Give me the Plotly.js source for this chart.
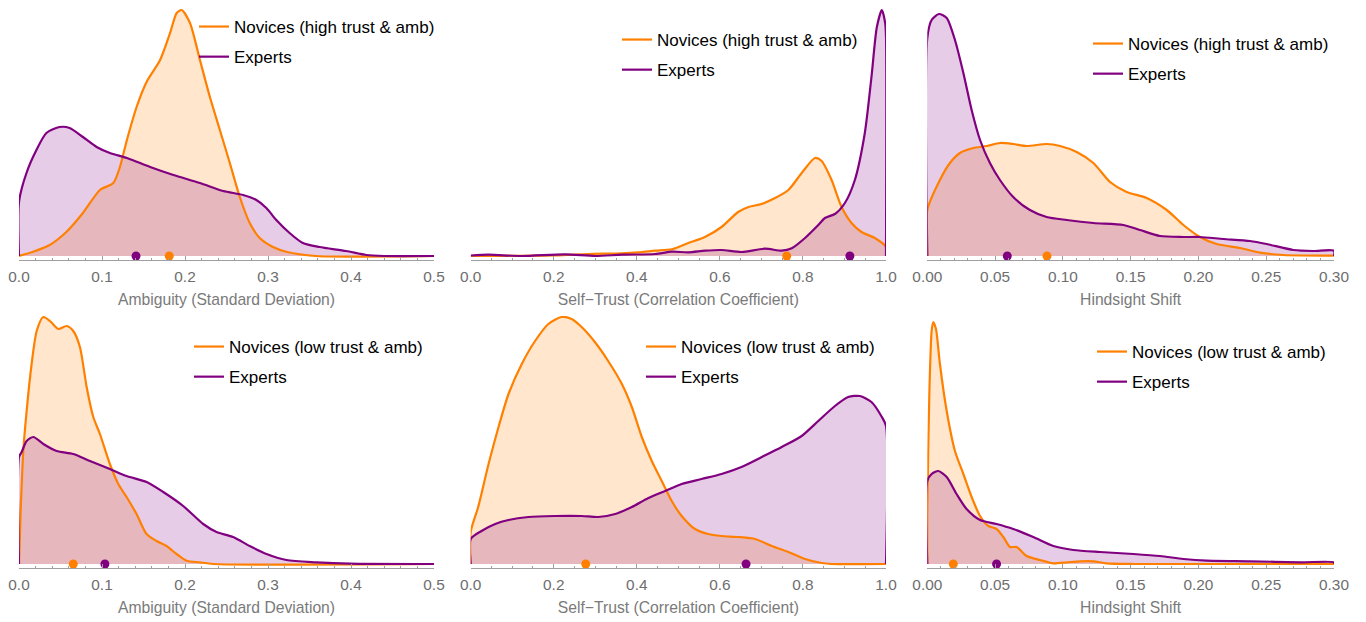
<!DOCTYPE html>
<html>
<head>
<meta charset="utf-8">
<script src="https://cdn.plot.ly/plotly-3.0.1.min.js"></script>
<style>html,body{margin:0;padding:0;background:#fff;}#chart{width:1366px;height:622px;}</style>
</head>
<body>
<div id="chart"></div>
<script>
// ---- Data (density curves; heights in relative units) ----
// Panel 1: Ambiguity, high trust & amb
const ambHighNovX = [0,0.017,0.037,0.057,0.077,0.0975,0.1136,0.1216,0.13,0.1417,0.1537,0.17,0.182,0.19,0.196,0.206,0.218,0.23,0.242,0.254,0.266,0.278,0.29,0.306,0.322,0.358,0.5];
const ambHighNovY = [0,4.3,11,24,43,66,73,89,116,149,174,196,223,243,246,233,196,159,126,93,59,33,18,9,4.3,0,0];
const ambHighExpX = [0,0,0.009,0.021,0.033,0.049,0.061,0.077,0.0935,0.1095,0.13,0.158,0.186,0.218,0.246,0.27,0.286,0.298,0.31,0.326,0.342,0.362,0.394,0.4185,0.44,0.5];
const ambHighExpY = [0,54,83,106,123,129,128,119,109,103,98,89,81,73,65,61,56,48,36,23,13,9,5,1,0,0];
const ambHighMeans = [0.181, 0.141]; // [Novices, Experts]

// Panel 2: Self-Trust, high trust & amb
const trustHighNovX = [0,0.203,0.283,0.364,0.404,0.444,0.484,0.524,0.564,0.604,0.644,0.669,0.70,0.733,0.765,0.797,0.829,0.845,0.869,0.893,0.917,0.941,0.973,1.0,1.0];
const trustHighNovY = [0,0.7,2,2.7,3.7,5.3,6.7,13,19,29,44,49,52,58,66,83,98,95,76,49,33,24,18,9,0];
const trustHighExpX = [0,0.043,0.123,0.227,0.3,0.364,0.444,0.484,0.524,0.564,0.604,0.652,0.709,0.749,0.773,0.805,0.837,0.853,0.877,0.901,0.925,0.949,0.965,0.978,0.99,0.998,1.0,1.0];
const trustHighExpY = [0.5,1.3,0,1.7,0,1.3,2,4.3,3.7,5.3,6,4,7.3,5.3,7.7,18,31,38,42,53,76,123,179,229,246,233,220,0];
const trustHighMeans = [0.761, 0.913];

// Panel 3: Hindsight Shift, high trust & amb
const hindHighNovX = [0,0,0.0093,0.0167,0.0241,0.0339,0.0438,0.0536,0.0634,0.0733,0.088,0.0979,0.1102,0.1225,0.1348,0.147,0.1618,0.1766,0.1889,0.2011,0.2134,0.2307,0.2454,0.2626,0.30];
const hindHighNovY = [0,46,76,93,103,108,110,113,112,110,112,110,104,93,74,64,58,46,31,19,12,8,3.3,1,0.3];
const hindHighExpX = [0,0,0.0032,0.0086,0.0143,0.0204,0.0266,0.0327,0.0389,0.0462,0.0536,0.0634,0.0757,0.088,0.1028,0.1225,0.1446,0.1569,0.1716,0.1889,0.2011,0.2184,0.238,0.2503,0.27,0.2848,0.30,0.30];
const hindHighExpY = [0,218,236,242,238,216,183,146,116,93,76,59,46,39,36,33,31,26,20,19,19,17,15,12,6,5,5.3,0];
const hindHighMeans = [0.0883, 0.059];

// Panel 4: Ambiguity, low trust & amb
const ambLowNovX = [0,0.002,0.0052,0.0092,0.0152,0.0213,0.0293,0.0373,0.0473,0.0574,0.0654,0.0734,0.0815,0.0895,0.0975,0.1095,0.1196,0.1296,0.1416,0.1537,0.1657,0.1777,0.1898,0.2018,0.2179,0.234,0.5];
const ambLowNovY = [0,53,113,153,200,233,247,243,235,238,233,217,177,147,130,100,80,67,50,30,23,18,10,3.3,1.7,0,0];
const ambLowExpX = [0,0,0.0032,0.0092,0.0173,0.0293,0.0453,0.0654,0.0855,0.1095,0.1296,0.1537,0.1738,0.1978,0.2219,0.238,0.258,0.278,0.2982,0.3222,0.3583,0.3985,0.5];
const ambLowExpY = [0,107,112,123,127,120,113,110,103,95,88,82,72,58,40,32,27,18,10,4,1.7,0.3,0];
const ambLowMeans = [0.0654, 0.1035];

// Panel 5: Self-Trust, low trust & amb
const trustLowNovX = [0,0,0.018,0.043,0.067,0.091,0.123,0.155,0.187,0.219,0.243,0.267,0.299,0.331,0.364,0.388,0.412,0.436,0.46,0.484,0.508,0.54,0.572,0.604,0.644,0.685,0.725,0.765,0.805,0.845,0.869,1.0];
const trustLowNovY = [0,32,57,100,137,170,200,223,240,247,245,237,222,203,180,157,127,103,83,63,48,35,30,28,27,25,18,12,5,1,0,0];
const trustLowExpX = [0,0,0.026,0.059,0.091,0.139,0.203,0.267,0.307,0.348,0.388,0.428,0.468,0.508,0.556,0.604,0.652,0.701,0.749,0.797,0.837,0.877,0.909,0.937,0.965,0.99,1.0,1.0];
const trustLowExpY = [0,25,33,40,44,47,48,48,47,50,57,66,73,80,85,90,97,107,117,128,143,158,167,168,162,147,138,0];
const trustLowMeans = [0.277, 0.663];

// Panel 6: Hindsight Shift, low trust & amb
const hindLowNovX = [0,0,0.0015,0.0032,0.0044,0.0064,0.0093,0.0143,0.0204,0.0266,0.0327,0.0389,0.045,0.0511,0.0561,0.061,0.0659,0.0733,0.0831,0.093,0.1028,0.1126,0.1225,0.1323,0.152,0.30];
const hindLowNovY = [0,53,170,233,242,235,200,153,113,90,67,48,38,35,27,17,17,8,4,0.7,1.7,2.7,2.7,0.7,0,0];
const hindLowExpX = [0,0,0.0032,0.0081,0.0143,0.0216,0.029,0.0389,0.0511,0.0634,0.0782,0.093,0.1077,0.1274,0.152,0.1716,0.1889,0.206,0.238,0.275,0.30,0.30];
const hindLowExpY = [0,83,90,93,87,70,55,44,40,35,27,18,14,12,10,8,5,3.3,2.7,1.7,1.7,0];
const hindLowMeans = [0.0192, 0.0511];

const seriesNames = ['Novices (high trust & amb)', 'Novices (low trust & amb)', 'Experts'];
const axisTitles = ['Ambiguity (Standard Deviation)', 'Self\u2212Trust (Correlation Coefficient)', 'Hindsight Shift'];
const ambTicks = [0, 0.1, 0.2, 0.3, 0.4, 0.5];
const trustTicks = [0, 0.2, 0.4, 0.6, 0.8, 1.0];
const hindTicks = [0, 0.05, 0.10, 0.15, 0.20, 0.25, 0.30];

// ---- Styling ----
const ORANGE = '#FF8000', PURPLE = '#800080';
const ORANGE_FILL = 'rgba(255,128,0,0.2)', PURPLE_FILL = 'rgba(128,0,128,0.2)';
const FONT = 'Liberation Sans, Arial, Helvetica, sans-serif';

const panels = [
  {nx: ambHighNovX, ny: ambHighNovY, ex: ambHighExpX, ey: ambHighExpY, means: ambHighMeans, nov: seriesNames[0], title: axisTitles[0], ticks: ambTicks, fmt: '.1f', minor: 0.02, row: 0, col: 0, leg: [234, 9]},
  {nx: trustHighNovX, ny: trustHighNovY, ex: trustHighExpX, ey: trustHighExpY, means: trustHighMeans, nov: seriesNames[0], title: axisTitles[1], ticks: trustTicks, fmt: '.1f', minor: 0.05, row: 0, col: 1, leg: [657, 22]},
  {nx: hindHighNovX, ny: hindHighNovY, ex: hindHighExpX, ey: hindHighExpY, means: hindHighMeans, nov: seriesNames[0], title: axisTitles[2], ticks: hindTicks, fmt: '.2f', minor: 0.01, row: 0, col: 2, leg: [1128, 26]},
  {nx: ambLowNovX, ny: ambLowNovY, ex: ambLowExpX, ey: ambLowExpY, means: ambLowMeans, nov: seriesNames[1], title: axisTitles[0], ticks: ambTicks, fmt: '.1f', minor: 0.02, row: 1, col: 0, leg: [229, 329]},
  {nx: trustLowNovX, ny: trustLowNovY, ex: trustLowExpX, ey: trustLowExpY, means: trustLowMeans, nov: seriesNames[1], title: axisTitles[1], ticks: trustTicks, fmt: '.1f', minor: 0.05, row: 1, col: 1, leg: [681, 329]},
  {nx: hindLowNovX, ny: hindLowNovY, ex: hindLowExpX, ey: hindLowExpY, means: hindLowMeans, nov: seriesNames[1], title: axisTitles[2], ticks: hindTicks, fmt: '.2f', minor: 0.01, row: 1, col: 2, leg: [1132, 334]}
];

const W = 1366, H = 622;
const colPx = [[19, 434], [470.7, 886], [927.3, 1334]];
const rowPx = [[8, 260], [316, 568]]; // [top, bottom] in px

const fills = [], lines = [], dots = [];
const layout = {
  width: W, height: H,
  margin: {l: 0, r: 0, t: 0, b: 0},
  paper_bgcolor: '#fff', plot_bgcolor: 'rgba(0,0,0,0)',
  showlegend: true,
  font: {family: FONT}
};

panels.forEach((p, i) => {
  const k = i + 1;
  const sfx = (k === 1 ? '' : String(k));
  const xa = 'x' + sfx, ya = 'y' + sfx;
  const legName = 'legend' + sfx;
  const xr = [p.ticks[0], p.ticks[p.ticks.length - 1]];
  const groups = [
    {x: p.nx, y: p.ny, name: p.nov, color: ORANGE, fill: ORANGE_FILL, g: 'n' + k},
    {x: p.ex, y: p.ey, name: seriesNames[2], color: PURPLE, fill: PURPLE_FILL, g: 'e' + k}
  ];
  groups.forEach(s => {
    fills.push({
      type: 'scatter', mode: 'lines', x: s.x, y: s.y, xaxis: xa, yaxis: ya,
      line: {width: 0, shape: 'spline', smoothing: 0.7, color: s.color},
      fill: 'tozeroy', fillcolor: s.fill, showlegend: false, hoverinfo: 'skip'
    });
    lines.push({
      type: 'scatter', mode: 'lines', x: s.x, y: s.y, xaxis: xa, yaxis: ya,
      name: s.name, legend: legName, legendgroup: s.g,
      line: {color: s.color, width: 2.2, shape: 'spline', smoothing: 0.7},
      hoverinfo: 'skip'
    });
  });
  dots.push({
    type: 'scatter', mode: 'markers', x: p.means, y: [0, 0], xaxis: xa, yaxis: ya,
    marker: {color: [ORANGE, PURPLE], size: 9}, showlegend: false, cliponaxis: false, hoverinfo: 'skip'
  });
  const [cx0, cx1] = colPx[p.col];
  const [ry0, ry1] = rowPx[p.row];
  layout['xaxis' + sfx] = {
    domain: [cx0 / W, cx1 / W], anchor: ya, range: xr,
    showgrid: false, zeroline: false, showline: true, linecolor: '#a0a0a0', linewidth: 1,
    ticks: 'inside', ticklen: 4, tickwidth: 1, tickcolor: '#a0a0a0',
    tickvals: p.ticks, tickformat: p.fmt, ticklabelstandoff: 3,
    minor: {ticks: 'inside', ticklen: 2.5, tickcolor: '#a0a0a0', dtick: p.minor, showgrid: false},
    tickfont: {family: FONT, size: 15.4, color: '#6e6e6e'},
    title: {text: p.title, font: {family: FONT, size: 15.7, color: '#7a7a7a'}, standoff: 9},
    fixedrange: true
  };
  const top = 252 - 4; // px from baseline to top of domain
  layout['yaxis' + sfx] = {
    domain: [1 - ry1 / H, 1 - ry0 / H], anchor: xa, range: [-4, top],
    visible: false, showgrid: false, zeroline: false, fixedrange: true
  };
  layout[legName] = {
    x: (p.leg[0] - 40) / W, y: 1 - p.leg[1] / H, xanchor: 'left', yanchor: 'top',
    bgcolor: 'rgba(0,0,0,0)', borderwidth: 0,
    font: {family: FONT, size: 17, color: '#000'},
    tracegroupgap: 5, itemclick: false, itemdoubleclick: false
  };
});

Plotly.newPlot('chart', fills.concat(lines, dots), layout, {staticPlot: true, displayModeBar: false});
</script>
</body>
</html>
